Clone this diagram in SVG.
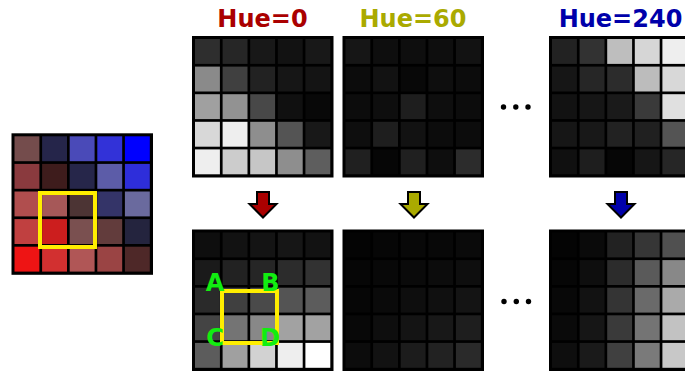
<svg xmlns="http://www.w3.org/2000/svg" width="685" height="372" viewBox="0 0 685 372">
<defs>
<style>
.bg{fill:#000}
.title{font-family:"DejaVu Sans","Liberation Sans",sans-serif;font-weight:bold;font-size:24px;text-anchor:middle}
.lbl{font-family:"DejaVu Sans","Liberation Sans",sans-serif;font-weight:bold;font-size:24px;text-anchor:middle;fill:#11ee11}
.sel{fill:none;stroke:#ffee00;stroke-width:4}
.arrow{stroke:#000;stroke-width:2;stroke-linejoin:miter}
.dot{fill:#000}
</style>
</defs>
<rect width="685" height="372" fill="#fff"/>

<!-- Input color image -->
<g id="input" transform="translate(11.5,133.3)">
<rect class="bg" width="141.5" height="141.5"/>
<rect x="3" y="3" width="24.9" height="24.9" fill="#744c4c"/><rect x="30.6" y="3" width="24.9" height="24.9" fill="#25254a"/><rect x="58.2" y="3" width="24.9" height="24.9" fill="#4a4ab8"/><rect x="85.8" y="3" width="24.9" height="24.9" fill="#3232d8"/><rect x="113.4" y="3" width="24.9" height="24.9" fill="#0000ff"/>
<rect x="3" y="30.6" width="24.9" height="24.9" fill="#8a3a3e"/><rect x="30.6" y="30.6" width="24.9" height="24.9" fill="#3e1c1c"/><rect x="58.2" y="30.6" width="24.9" height="24.9" fill="#26264a"/><rect x="85.8" y="30.6" width="24.9" height="24.9" fill="#5c5ca8"/><rect x="113.4" y="30.6" width="24.9" height="24.9" fill="#2e2eda"/>
<rect x="3" y="58.2" width="24.9" height="24.9" fill="#b04e4e"/><rect x="30.6" y="58.2" width="24.9" height="24.9" fill="#a65858"/><rect x="58.2" y="58.2" width="24.9" height="24.9" fill="#4c3434"/><rect x="85.8" y="58.2" width="24.9" height="24.9" fill="#343468"/><rect x="113.4" y="58.2" width="24.9" height="24.9" fill="#6a6a9e"/>
<rect x="3" y="85.8" width="24.9" height="24.9" fill="#c04040"/><rect x="30.6" y="85.8" width="24.9" height="24.9" fill="#cc1e1e"/><rect x="58.2" y="85.8" width="24.9" height="24.9" fill="#7a5050"/><rect x="85.8" y="85.8" width="24.9" height="24.9" fill="#623c3c"/><rect x="113.4" y="85.8" width="24.9" height="24.9" fill="#24243e"/>
<rect x="3" y="113.4" width="24.9" height="24.9" fill="#ee1414"/><rect x="30.6" y="113.4" width="24.9" height="24.9" fill="#d23030"/><rect x="58.2" y="113.4" width="24.9" height="24.9" fill="#b05656"/><rect x="85.8" y="113.4" width="24.9" height="24.9" fill="#9a4444"/><rect x="113.4" y="113.4" width="24.9" height="24.9" fill="#4e2828"/>
</g>
<rect id="input-window" class="sel" x="40" y="193" width="55" height="54"/>

<!-- Titles -->
<g id="title-h0"><text class="title" x="262.5" y="26.5" fill="#aa0000">Hue=0</text></g>
<g id="title-h60"><text class="title" x="413" y="26.5" fill="#aaaa00">Hue=60</text></g>
<g id="title-h240"><text class="title" x="620.5" y="26.5" fill="#0000aa">Hue=240</text></g>

<!-- Top row: hue maps -->
<g id="top-h0" transform="translate(192,36)">
<rect class="bg" width="141.5" height="141.5"/>
<rect x="3" y="3" width="24.9" height="24.9" fill="#2e2e2e"/><rect x="30.6" y="3" width="24.9" height="24.9" fill="#262626"/><rect x="58.2" y="3" width="24.9" height="24.9" fill="#181818"/><rect x="85.8" y="3" width="24.9" height="24.9" fill="#121212"/><rect x="113.4" y="3" width="24.9" height="24.9" fill="#181818"/>
<rect x="3" y="30.6" width="24.9" height="24.9" fill="#8a8a8a"/><rect x="30.6" y="30.6" width="24.9" height="24.9" fill="#404040"/><rect x="58.2" y="30.6" width="24.9" height="24.9" fill="#222222"/><rect x="85.8" y="30.6" width="24.9" height="24.9" fill="#161616"/><rect x="113.4" y="30.6" width="24.9" height="24.9" fill="#141414"/>
<rect x="3" y="58.2" width="24.9" height="24.9" fill="#a0a0a0"/><rect x="30.6" y="58.2" width="24.9" height="24.9" fill="#929292"/><rect x="58.2" y="58.2" width="24.9" height="24.9" fill="#484848"/><rect x="85.8" y="58.2" width="24.9" height="24.9" fill="#101010"/><rect x="113.4" y="58.2" width="24.9" height="24.9" fill="#080808"/>
<rect x="3" y="85.8" width="24.9" height="24.9" fill="#d8d8d8"/><rect x="30.6" y="85.8" width="24.9" height="24.9" fill="#eeeeee"/><rect x="58.2" y="85.8" width="24.9" height="24.9" fill="#8e8e8e"/><rect x="85.8" y="85.8" width="24.9" height="24.9" fill="#545454"/><rect x="113.4" y="85.8" width="24.9" height="24.9" fill="#181818"/>
<rect x="3" y="113.4" width="24.9" height="24.9" fill="#eeeeee"/><rect x="30.6" y="113.4" width="24.9" height="24.9" fill="#cccccc"/><rect x="58.2" y="113.4" width="24.9" height="24.9" fill="#c6c6c6"/><rect x="85.8" y="113.4" width="24.9" height="24.9" fill="#8e8e8e"/><rect x="113.4" y="113.4" width="24.9" height="24.9" fill="#5e5e5e"/>
</g>

<g id="top-h60" transform="translate(342.5,36)">
<rect class="bg" width="141.5" height="141.5"/>
<rect x="3" y="3" width="24.9" height="24.9" fill="#161616"/><rect x="30.6" y="3" width="24.9" height="24.9" fill="#0e0e0e"/><rect x="58.2" y="3" width="24.9" height="24.9" fill="#0e0e0e"/><rect x="85.8" y="3" width="24.9" height="24.9" fill="#0e0e0e"/><rect x="113.4" y="3" width="24.9" height="24.9" fill="#121212"/>
<rect x="3" y="30.6" width="24.9" height="24.9" fill="#0c0c0c"/><rect x="30.6" y="30.6" width="24.9" height="24.9" fill="#121212"/><rect x="58.2" y="30.6" width="24.9" height="24.9" fill="#080808"/><rect x="85.8" y="30.6" width="24.9" height="24.9" fill="#0e0e0e"/><rect x="113.4" y="30.6" width="24.9" height="24.9" fill="#0c0c0c"/>
<rect x="3" y="58.2" width="24.9" height="24.9" fill="#0c0c0c"/><rect x="30.6" y="58.2" width="24.9" height="24.9" fill="#0e0e0e"/><rect x="58.2" y="58.2" width="24.9" height="24.9" fill="#1e1e1e"/><rect x="85.8" y="58.2" width="24.9" height="24.9" fill="#0e0e0e"/><rect x="113.4" y="58.2" width="24.9" height="24.9" fill="#0c0c0c"/>
<rect x="3" y="85.8" width="24.9" height="24.9" fill="#0e0e0e"/><rect x="30.6" y="85.8" width="24.9" height="24.9" fill="#1e1e1e"/><rect x="58.2" y="85.8" width="24.9" height="24.9" fill="#121212"/><rect x="85.8" y="85.8" width="24.9" height="24.9" fill="#0c0c0c"/><rect x="113.4" y="85.8" width="24.9" height="24.9" fill="#0c0c0c"/>
<rect x="3" y="113.4" width="24.9" height="24.9" fill="#202020"/><rect x="30.6" y="113.4" width="24.9" height="24.9" fill="#060606"/><rect x="58.2" y="113.4" width="24.9" height="24.9" fill="#202020"/><rect x="85.8" y="113.4" width="24.9" height="24.9" fill="#0e0e0e"/><rect x="113.4" y="113.4" width="24.9" height="24.9" fill="#2c2c2c"/>
</g>

<g id="top-h240" transform="translate(549,36)">
<rect class="bg" width="141.5" height="141.5"/>
<rect x="3" y="3" width="24.9" height="24.9" fill="#222222"/><rect x="30.6" y="3" width="24.9" height="24.9" fill="#323232"/><rect x="58.2" y="3" width="24.9" height="24.9" fill="#bebebe"/><rect x="85.8" y="3" width="24.9" height="24.9" fill="#d6d6d6"/><rect x="113.4" y="3" width="24.9" height="24.9" fill="#eeeeee"/>
<rect x="3" y="30.6" width="24.9" height="24.9" fill="#161616"/><rect x="30.6" y="30.6" width="24.9" height="24.9" fill="#262626"/><rect x="58.2" y="30.6" width="24.9" height="24.9" fill="#2c2c2c"/><rect x="85.8" y="30.6" width="24.9" height="24.9" fill="#bcbcbc"/><rect x="113.4" y="30.6" width="24.9" height="24.9" fill="#d8d8d8"/>
<rect x="3" y="58.2" width="24.9" height="24.9" fill="#121212"/><rect x="30.6" y="58.2" width="24.9" height="24.9" fill="#161616"/><rect x="58.2" y="58.2" width="24.9" height="24.9" fill="#1a1a1a"/><rect x="85.8" y="58.2" width="24.9" height="24.9" fill="#3a3a3a"/><rect x="113.4" y="58.2" width="24.9" height="24.9" fill="#e0e0e0"/>
<rect x="3" y="85.8" width="24.9" height="24.9" fill="#161616"/><rect x="30.6" y="85.8" width="24.9" height="24.9" fill="#181818"/><rect x="58.2" y="85.8" width="24.9" height="24.9" fill="#222222"/><rect x="85.8" y="85.8" width="24.9" height="24.9" fill="#202020"/><rect x="113.4" y="85.8" width="24.9" height="24.9" fill="#545454"/>
<rect x="3" y="113.4" width="24.9" height="24.9" fill="#101010"/><rect x="30.6" y="113.4" width="24.9" height="24.9" fill="#1e1e1e"/><rect x="58.2" y="113.4" width="24.9" height="24.9" fill="#060606"/><rect x="85.8" y="113.4" width="24.9" height="24.9" fill="#161616"/><rect x="113.4" y="113.4" width="24.9" height="24.9" fill="#262626"/>
</g>

<!-- Bottom row: integral images -->
<g id="bottom-h0" transform="translate(192,229.5)">
<rect class="bg" width="141.5" height="141.5"/>
<rect x="3" y="3" width="24.9" height="24.9" fill="#0e0e0e"/><rect x="30.6" y="3" width="24.9" height="24.9" fill="#121212"/><rect x="58.2" y="3" width="24.9" height="24.9" fill="#141414"/><rect x="85.8" y="3" width="24.9" height="24.9" fill="#161616"/><rect x="113.4" y="3" width="24.9" height="24.9" fill="#121212"/>
<rect x="3" y="30.6" width="24.9" height="24.9" fill="#1a1a1a"/><rect x="30.6" y="30.6" width="24.9" height="24.9" fill="#222222"/><rect x="58.2" y="30.6" width="24.9" height="24.9" fill="#262626"/><rect x="85.8" y="30.6" width="24.9" height="24.9" fill="#2c2c2c"/><rect x="113.4" y="30.6" width="24.9" height="24.9" fill="#323232"/>
<rect x="3" y="58.2" width="24.9" height="24.9" fill="#2a2a2a"/><rect x="30.6" y="58.2" width="24.9" height="24.9" fill="#404040"/><rect x="58.2" y="58.2" width="24.9" height="24.9" fill="#4a4a4a"/><rect x="85.8" y="58.2" width="24.9" height="24.9" fill="#545454"/><rect x="113.4" y="58.2" width="24.9" height="24.9" fill="#5c5c5c"/>
<rect x="3" y="85.8" width="24.9" height="24.9" fill="#444444"/><rect x="30.6" y="85.8" width="24.9" height="24.9" fill="#747474"/><rect x="58.2" y="85.8" width="24.9" height="24.9" fill="#888888"/><rect x="85.8" y="85.8" width="24.9" height="24.9" fill="#a2a2a2"/><rect x="113.4" y="85.8" width="24.9" height="24.9" fill="#a2a2a2"/>
<rect x="3" y="113.4" width="24.9" height="24.9" fill="#5c5c5c"/><rect x="30.6" y="113.4" width="24.9" height="24.9" fill="#a0a0a0"/><rect x="58.2" y="113.4" width="24.9" height="24.9" fill="#d2d2d2"/><rect x="85.8" y="113.4" width="24.9" height="24.9" fill="#eeeeee"/><rect x="113.4" y="113.4" width="24.9" height="24.9" fill="#ffffff"/>
</g>
<g id="bottom-h0-window">
<rect class="sel" x="222" y="291" width="55" height="52"/>
<text class="lbl" x="215" y="291">A</text>
<text class="lbl" x="270.5" y="291">B</text>
<text class="lbl" x="215" y="345.5">C</text>
<text class="lbl" x="270" y="345.5">D</text>
</g>

<g id="bottom-h60" transform="translate(342.5,229.5)">
<rect class="bg" width="141.5" height="141.5"/>
<rect x="3" y="3" width="24.9" height="24.9" fill="#040404"/><rect x="30.6" y="3" width="24.9" height="24.9" fill="#060606"/><rect x="58.2" y="3" width="24.9" height="24.9" fill="#080808"/><rect x="85.8" y="3" width="24.9" height="24.9" fill="#080808"/><rect x="113.4" y="3" width="24.9" height="24.9" fill="#0a0a0a"/>
<rect x="3" y="30.6" width="24.9" height="24.9" fill="#060606"/><rect x="30.6" y="30.6" width="24.9" height="24.9" fill="#080808"/><rect x="58.2" y="30.6" width="24.9" height="24.9" fill="#0a0a0a"/><rect x="85.8" y="30.6" width="24.9" height="24.9" fill="#0c0c0c"/><rect x="113.4" y="30.6" width="24.9" height="24.9" fill="#0e0e0e"/>
<rect x="3" y="58.2" width="24.9" height="24.9" fill="#060606"/><rect x="30.6" y="58.2" width="24.9" height="24.9" fill="#0a0a0a"/><rect x="58.2" y="58.2" width="24.9" height="24.9" fill="#0e0e0e"/><rect x="85.8" y="58.2" width="24.9" height="24.9" fill="#101010"/><rect x="113.4" y="58.2" width="24.9" height="24.9" fill="#141414"/>
<rect x="3" y="85.8" width="24.9" height="24.9" fill="#080808"/><rect x="30.6" y="85.8" width="24.9" height="24.9" fill="#0e0e0e"/><rect x="58.2" y="85.8" width="24.9" height="24.9" fill="#141414"/><rect x="85.8" y="85.8" width="24.9" height="24.9" fill="#181818"/><rect x="113.4" y="85.8" width="24.9" height="24.9" fill="#1e1e1e"/>
<rect x="3" y="113.4" width="24.9" height="24.9" fill="#0c0c0c"/><rect x="30.6" y="113.4" width="24.9" height="24.9" fill="#121212"/><rect x="58.2" y="113.4" width="24.9" height="24.9" fill="#1c1c1c"/><rect x="85.8" y="113.4" width="24.9" height="24.9" fill="#222222"/><rect x="113.4" y="113.4" width="24.9" height="24.9" fill="#2a2a2a"/>
</g>

<g id="bottom-h240" transform="translate(549,229.5)">
<rect class="bg" width="141.5" height="141.5"/>
<rect x="3" y="3" width="24.9" height="24.9" fill="#040404"/><rect x="30.6" y="3" width="24.9" height="24.9" fill="#0a0a0a"/><rect x="58.2" y="3" width="24.9" height="24.9" fill="#222222"/><rect x="85.8" y="3" width="24.9" height="24.9" fill="#363636"/><rect x="113.4" y="3" width="24.9" height="24.9" fill="#505050"/>
<rect x="3" y="30.6" width="24.9" height="24.9" fill="#060606"/><rect x="30.6" y="30.6" width="24.9" height="24.9" fill="#0e0e0e"/><rect x="58.2" y="30.6" width="24.9" height="24.9" fill="#2c2c2c"/><rect x="85.8" y="30.6" width="24.9" height="24.9" fill="#5a5a5a"/><rect x="113.4" y="30.6" width="24.9" height="24.9" fill="#888888"/>
<rect x="3" y="58.2" width="24.9" height="24.9" fill="#080808"/><rect x="30.6" y="58.2" width="24.9" height="24.9" fill="#121212"/><rect x="58.2" y="58.2" width="24.9" height="24.9" fill="#343434"/><rect x="85.8" y="58.2" width="24.9" height="24.9" fill="#6a6a6a"/><rect x="113.4" y="58.2" width="24.9" height="24.9" fill="#aaaaaa"/>
<rect x="3" y="85.8" width="24.9" height="24.9" fill="#0a0a0a"/><rect x="30.6" y="85.8" width="24.9" height="24.9" fill="#161616"/><rect x="58.2" y="85.8" width="24.9" height="24.9" fill="#3a3a3a"/><rect x="85.8" y="85.8" width="24.9" height="24.9" fill="#747474"/><rect x="113.4" y="85.8" width="24.9" height="24.9" fill="#c2c2c2"/>
<rect x="3" y="113.4" width="24.9" height="24.9" fill="#0e0e0e"/><rect x="30.6" y="113.4" width="24.9" height="24.9" fill="#1a1a1a"/><rect x="58.2" y="113.4" width="24.9" height="24.9" fill="#404040"/><rect x="85.8" y="113.4" width="24.9" height="24.9" fill="#7a7a7a"/><rect x="113.4" y="113.4" width="24.9" height="24.9" fill="#c8c8c8"/>
</g>

<!-- Ellipses -->
<g id="dots-top"><circle class="dot" cx="503.5" cy="107" r="2.7"/><circle class="dot" cx="515.8" cy="107" r="2.7"/><circle class="dot" cx="528" cy="107" r="2.7"/></g>
<g id="dots-bottom"><circle class="dot" cx="504" cy="301.5" r="2.7"/><circle class="dot" cx="516.3" cy="301.5" r="2.7"/><circle class="dot" cx="528.5" cy="301.5" r="2.7"/></g>

<!-- Connectors -->
<g id="connectors">
<polygon class="arrow" fill="#aa0000" points="257,192 269,192 269,204 276.5,204 263,217.5 249.5,204 257,204"/>
<polygon class="arrow" fill="#aaaa00" points="408,192 420,192 420,204 427.5,204 414,217.5 400.5,204 408,204"/>
<polygon class="arrow" fill="#0000aa" points="615,192 627,192 627,204 634.5,204 621,217.5 607.5,204 615,204"/>
</g>
</svg>
